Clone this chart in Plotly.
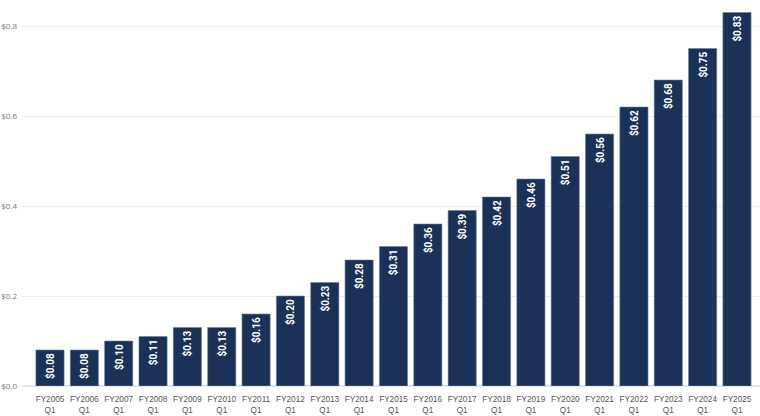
import plotly.graph_objects as go

years = [f"FY{y}" for y in range(2005, 2026)]
quarters = ["Q1"] * len(years)
values = [0.08, 0.08, 0.10, 0.11, 0.13, 0.13, 0.16, 0.20, 0.23, 0.28, 0.31,
          0.36, 0.39, 0.42, 0.46, 0.51, 0.56, 0.62, 0.68, 0.75, 0.83]
y_ticks = [0.0, 0.2, 0.4, 0.6, 0.8]
y_tick_labels = ["$0.0", "$0.2", "$0.4", "$0.6", "$0.8"]

x = list(range(len(years)))
cat_labels = [f"{y}<br>{q}" for y, q in zip(years, quarters)]
texts = [f"${v:.2f}" for v in values]

fig = go.Figure(go.Bar(
    x=x, y=values, text=texts,
    textposition="inside", insidetextanchor="end", textangle=-90,
    textfont=dict(color="white", size=10, weight="bold",
                  family="Liberation Sans Narrow, Roboto, sans-serif"),
    marker=dict(color="#1b3157", line=dict(color="#6f7f99", width=0.6)),
    width=0.82, cliponaxis=False,
))

fig.update_layout(
    width=760, height=416,
    margin=dict(l=22, r=0, t=5, b=30),
    plot_bgcolor="white", paper_bgcolor="white",
    showlegend=False,
    uniformtext=dict(minsize=10, mode="show"),
    xaxis=dict(tickmode="array", tickvals=x, ticktext=cat_labels,
               range=[-0.815, 20.67], showgrid=False, zeroline=False,
               tickfont=dict(size=8.2, color="#555555", family="Liberation Sans, Arial, sans-serif"),
               ticks="", automargin=False, fixedrange=True, ticklabelstandoff=7),
    yaxis=dict(tickmode="array", tickvals=y_ticks, ticktext=y_tick_labels,
               range=[0, 0.8467], showgrid=True, gridcolor="#ececec", gridwidth=1,
               zeroline=True, zerolinecolor="#e6e6e6",
               tickfont=dict(size=8, color="#777777", family="Open Sans, sans-serif"),
               ticks="", automargin=False, ticklabelstandoff=4),
)

fig.write_html("out.html", post_script="document.body.style.margin='0';",
               config={"displayModeBar": False})
